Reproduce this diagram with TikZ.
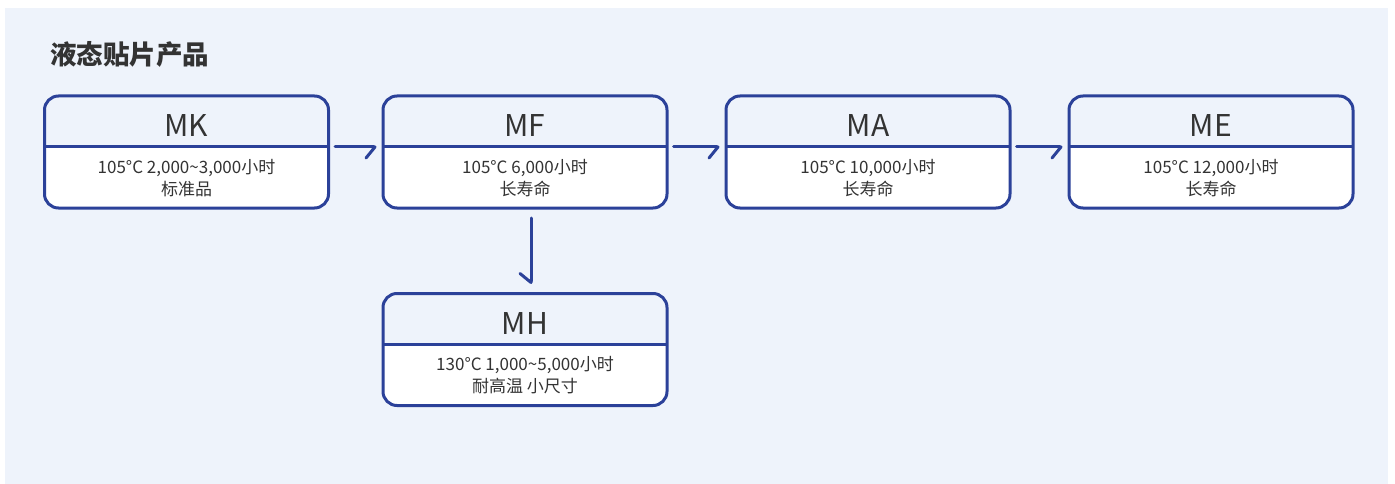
\documentclass[tikz,border=0pt]{standalone}
\usepackage{fontspec}
\setmainfont{Noto Sans CJK SC}
\usetikzlibrary{arrows.meta}
\definecolor{bgc}{HTML}{EEF3FB}
\definecolor{bc}{HTML}{2B4199}
\definecolor{tc}{HTML}{333333}
\tikzset{
  boxnode/.style={inner sep=0pt, outer sep=0pt, minimum width=284pt, minimum height=112pt},
  boxline/.style={draw=bc, line width=3pt},
  titletxt/.style={text=tc, font=\fontsize{30}{32}\selectfont, anchor=base, inner sep=0pt},
  bodytxt/.style={text=tc, font=\fontsize{17}{22}\selectfont, anchor=base, align=center, inner sep=0pt},
  headtxt/.style={text=tc, font=\fontsize{26.5}{28}\selectfont\bfseries, anchor=base west, inner sep=0pt},
  arr/.style={draw=bc, line width=3pt, line cap=round, line join=round,
    -{Straight Barb[harpoon,swap,length=9pt,width=22pt,round]}}
}
\newcommand\prodbox[6]{%
  \fill[white,rounded corners=14pt] (#2,#3+51) -- (#2,#3+112) -- (#2+284,#3+112) -- (#2+284,#3+51);
  \draw[boxline] (#2,#3+51) -- (#2+284,#3+51);
  \node[boxnode] (#1) at (#2+142,#3+56) {};
  \draw[boxline, rounded corners=14pt] (#1.north west) rectangle (#1.south east);
  \node[titletxt] (#1-t) at (#2+142,#3+41) {#4};
  \node[bodytxt] (#1-b) at (#2+142,#3+99) {#5\\#6};
}
\begin{document}
\begin{tikzpicture}[x=1pt,y=-1pt]
\useasboundingbox (0,0) rectangle (1395,484);
\fill[white] (0,0) rectangle (1395,484);
\fill[bgc] (5,8) rectangle (1388,484);
\node[headtxt] (head) at (50,65) {液态贴片产品};
\prodbox{mk}{44.5}{96}{MK}{105°C 2,000\textasciitilde3,000小时}{标准品}
\prodbox{mf}{383}{96}{MF}{105°C 6,000小时}{长寿命}
\prodbox{ma}{726}{96}{MA}{105°C 10,000小时}{长寿命}
\prodbox{me}{1069}{96}{ME}{105°C 12,000小时}{长寿命}
\prodbox{mh}{383}{293.5}{MH}{130°C 1,000\textasciitilde5,000小时}{耐高温 小尺寸}
\draw[arr, shorten <=6.5pt, shorten >=6.5pt] ([yshift=5pt]mk.east) -- ([yshift=5pt]mf.west);
\draw[arr, shorten <=6.5pt, shorten >=6.5pt] ([yshift=5pt]mf.east) -- ([yshift=5pt]ma.west);
\draw[arr, shorten <=6.5pt, shorten >=6.5pt] ([yshift=5pt]ma.east) -- ([yshift=5pt]me.west);
\draw[arr, shorten <=10pt, shorten >=9.5pt] ([xshift=6pt]mf.south) -- ([xshift=6pt]mh.north);
\end{tikzpicture}
\end{document}
